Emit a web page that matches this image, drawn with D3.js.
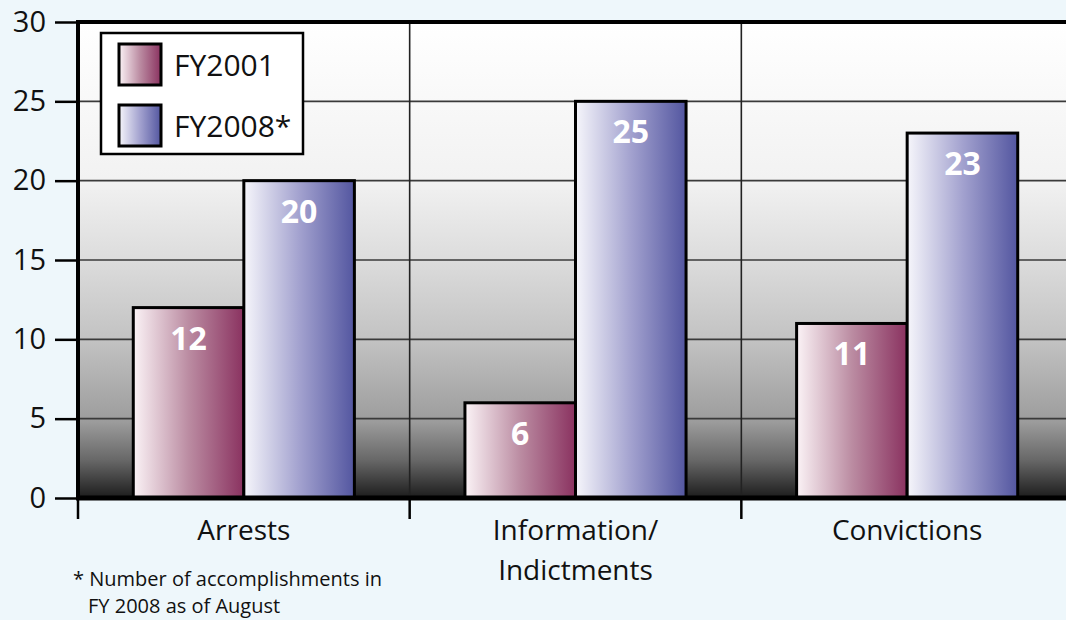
<!DOCTYPE html>
<html>
<head>
<meta charset="utf-8">
<script src="https://cdn.jsdelivr.net/npm/d3@7"></script>
<style>
  html, body { margin: 0; padding: 0; background: #eef7fb; }
  svg { display: block; font-family: "Open Sans", "Noto Sans", sans-serif; }
</style>
</head>
<body>
<svg id="chart" width="1066" height="620"></svg>
<script>
const categories = ["Arrests", "Information/\nIndictments", "Convictions"];
const seriesNames = ["FY2001", "FY2008*"];
const fy2001 = [12, 6, 11];
const fy2008 = [20, 25, 23];
const yTicks = [0, 5, 10, 15, 20, 25, 30];
const footnote = ["* Number of accomplishments in", "FY 2008 as of August"];

(function () {
const svg = d3.select("#chart");
const W = 1066;
const pL = 78, pT = 22, pR = 1073, pB = 498;

const x = d3.scaleBand().domain(categories).range([pL, pR]).paddingInner(0).paddingOuter(0);
const xs = d3.scaleBand().domain(seriesNames).range([0, x.bandwidth()]).paddingInner(0).paddingOuter(0.5);
const y = d3.scaleLinear().domain([0, 30]).range([pB, pT]);

const defs = svg.append("defs");
const bg = defs.append("linearGradient").attr("id", "bg").attr("x1", 0).attr("y1", 0).attr("x2", 0).attr("y2", 1);
[[0, "#ffffff"], [0.33, "#f2f2f2"], [0.5, "#dcdcdc"], [0.67, "#c2c2c2"], [0.84, "#9c9c9c"], [0.92, "#686868"], [1, "#1c1c1c"]]
  .forEach(([o, c]) => bg.append("stop").attr("offset", o).attr("stop-color", c));
const g1 = defs.append("linearGradient").attr("id", "g1").attr("x1", 0).attr("x2", 1).attr("y1", 0).attr("y2", 0);
g1.append("stop").attr("offset", 0).attr("stop-color", "#fbf3f6");
g1.append("stop").attr("offset", 0.5).attr("stop-color", "#bb8ca2");
g1.append("stop").attr("offset", 1).attr("stop-color", "#8a3260");
const g2 = defs.append("linearGradient").attr("id", "g2").attr("x1", 0).attr("x2", 1).attr("y1", 0).attr("y2", 0);
g2.append("stop").attr("offset", 0).attr("stop-color", "#f6f6fb");
g2.append("stop").attr("offset", 0.5).attr("stop-color", "#a3a2cf");
g2.append("stop").attr("offset", 1).attr("stop-color", "#5356a0");
const fills = ["url(#g1)", "url(#g2)"];

// plot background
svg.append("rect").attr("x", pL).attr("y", pT).attr("width", pR - pL).attr("height", pB - pT)
  .attr("fill", "url(#bg)");

// horizontal grid
svg.append("g").selectAll("line").data(yTicks.filter(d => d > 0 && d < 30)).join("line")
  .attr("x1", pL).attr("x2", W).attr("y1", d => y(d)).attr("y2", d => y(d))
  .attr("stroke", "#3a3a3a").attr("stroke-width", 1.6);

// vertical grid at category boundaries
svg.append("g").selectAll("line").data(categories.slice(1)).join("line")
  .attr("x1", d => x(d)).attr("x2", d => x(d)).attr("y1", pT).attr("y2", pB)
  .attr("stroke", "#222").attr("stroke-width", 1.6);

// bars
const data = [];
categories.forEach((c, i) => {
  data.push({ c, s: seriesNames[0], v: fy2001[i], k: 0 });
  data.push({ c, s: seriesNames[1], v: fy2008[i], k: 1 });
});
const bars = svg.append("g");
bars.selectAll("rect").data(data).join("rect")
  .attr("x", d => x(d.c) + xs(d.s))
  .attr("y", d => y(d.v))
  .attr("width", xs.bandwidth())
  .attr("height", d => y(0) - y(d.v))
  .attr("fill", d => fills[d.k])
  .attr("stroke", "#000").attr("stroke-width", 3);
bars.selectAll("text").data(data).join("text")
  .attr("x", d => x(d.c) + xs(d.s) + xs.bandwidth() / 2)
  .attr("y", d => y(d.v) + 42)
  .attr("text-anchor", "middle")
  .attr("fill", "#fff").attr("font-weight", "bold").attr("font-size", 32)
  .text(d => d.v);

// frame: top, left, bottom
svg.append("line").attr("x1", pL).attr("x2", W).attr("y1", pT).attr("y2", pT).attr("stroke", "#000").attr("stroke-width", 4);
svg.append("line").attr("x1", pL).attr("x2", pL).attr("y1", pT - 2).attr("y2", pB + 2).attr("stroke", "#000").attr("stroke-width", 4);
svg.append("line").attr("x1", pL - 2).attr("x2", W).attr("y1", pB).attr("y2", pB).attr("stroke", "#000").attr("stroke-width", 5);

// y axis
const yAxis = svg.append("g").attr("transform", `translate(${pL - 1},0)`)
  .call(d3.axisLeft(y).tickValues(yTicks).tickSize(22).tickPadding(9));
yAxis.select(".domain").remove();
yAxis.selectAll(".tick line").attr("stroke", "#000").attr("stroke-width", 2.5);
yAxis.selectAll(".tick text").attr("font-size", 29).attr("fill", "#111").attr("font-family", "'Open Sans', sans-serif");

// x ticks at boundaries
svg.append("g").selectAll("line").data(categories).join("line")
  .attr("x1", d => x(d)).attr("x2", d => x(d)).attr("y1", pB).attr("y2", pB + 21)
  .attr("stroke", "#000").attr("stroke-width", 2.5);

// category labels
svg.append("g").selectAll("text").data(categories).join("text")
  .attr("x", d => x(d) + x.bandwidth() / 2)
  .attr("y", 540)
  .attr("text-anchor", "middle")
  .attr("font-size", 28).attr("fill", "#111")
  .each(function (d) {
    const lines = d.split("\n");
    const t = d3.select(this);
    lines.forEach((l, i) => t.append("tspan").attr("x", x(d) + x.bandwidth() / 2).attr("dy", i === 0 ? 0 : 40).text(l));
  });

// legend
const lg = svg.append("g");
lg.append("rect").attr("x", 101).attr("y", 33).attr("width", 202).attr("height", 121)
  .attr("fill", "#fff").attr("stroke", "#000").attr("stroke-width", 2.5);
seriesNames.forEach((s, i) => {
  lg.append("rect").attr("x", 119).attr("y", 44 + i * 61).attr("width", 42).attr("height", 41)
    .attr("fill", fills[i]).attr("stroke", "#000").attr("stroke-width", 3);
  lg.append("text").attr("x", 174).attr("y", 76 + i * 61).attr("font-size", 30).attr("fill", "#111").text(s);
});

// footnote
svg.append("text").attr("x", 73).attr("y", 586).attr("font-size", 20).attr("fill", "#111").text(footnote[0]);
svg.append("text").attr("x", 88).attr("y", 613).attr("font-size", 20).attr("fill", "#111").text(footnote[1]);
})();
</script>
</body>
</html>
